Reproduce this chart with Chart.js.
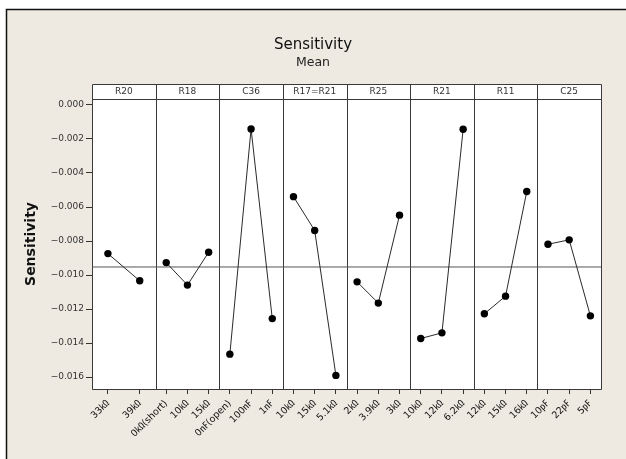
<!DOCTYPE html>
<html>
<head>
<meta charset="utf-8">
<script src="https://cdn.jsdelivr.net/npm/chart.js@4.4.1/dist/chart.umd.min.js"></script>
<style>
  html, body { margin: 0; padding: 0; background: #ffffff; }
  #wrap { width: 626px; height: 459px; position: relative; }
</style>
</head>
<body>
<div id="wrap"><canvas id="c" width="626" height="459"></canvas></div>
<script>
// Main effects of each factor on mean sensitivity
const factors = ['R20', 'R18', 'C36', 'R17=R21', 'R25', 'R21', 'R11', 'C25'];

const r20Levels    = ['33㏀', '39㏀'];
const r18Levels    = ['0㏀(short)', '10㏀', '15㏀'];
const c36Levels    = ['0㎋(open)', '100㎋', '1㎋'];
const r17r21Levels = ['10㏀', '15㏀', '5.1㏀'];
const r25Levels    = ['2㏀', '3.9㏀', '3㏀'];
const r21Levels    = ['10㏀', '12㏀', '6.2㏀'];
const r11Levels    = ['12㏀', '15㏀', '16㏀'];
const c25Levels    = ['10㎊', '22㎊', '5㎊'];

const r20Means    = [-0.00874, -0.01034];
const r18Means    = [-0.00927, -0.01059, -0.00866];
const c36Means    = [-0.01465, -0.00141, -0.01256];
const r17r21Means = [-0.00539, -0.00738, -0.01590];
const r25Means    = [-0.01040, -0.01165, -0.00648];
const r21Means    = [-0.01373, -0.01340, -0.00143];
const r11Means    = [-0.01228, -0.01124, -0.00509];
const c25Means    = [-0.00819, -0.00793, -0.01240];

const yTickValues = [0, -0.002, -0.004, -0.006, -0.008, -0.010, -0.012, -0.014, -0.016];

const levelSets = [r20Levels, r18Levels, c36Levels, r17r21Levels, r25Levels, r21Levels, r11Levels, c25Levels];
const meanSets  = [r20Means, r18Means, c36Means, r17r21Means, r25Means, r21Means, r11Means, c25Means];

// Each factor occupies one unit of the x scale; its levels sit at band centres.
const tickPositions = [];
const tickLabels = [];
const datasets = [];
meanSets.forEach((means, i) => {
  const n = means.length;
  const pts = means.map((v, j) => ({ x: i + (j + 0.5) / n, y: v }));
  pts.forEach((p, j) => { tickPositions.push(p.x); tickLabels.push(levelSets[i][j]); });
  datasets.push({
    label: factors[i],
    data: pts,
    showLine: true,
    borderColor: '#2a2a2a',
    borderWidth: 1,
    backgroundColor: '#000000',
    pointBackgroundColor: '#000000',
    pointBorderWidth: 0,
    pointRadius: 3.7,
    pointHoverRadius: 3.7,
    order: 1
  });
});

const factorMeans = meanSets.map(m => m.reduce((a, b) => a + b, 0) / m.length);
const grandMean = factorMeans.reduce((a, b) => a + b, 0) / factorMeans.length;
datasets.push({
  label: 'mean',
  data: [{ x: 0, y: grandMean }, { x: factors.length, y: grandMean }],
  showLine: true,
  borderColor: '#555555',
  borderWidth: 1,
  pointRadius: 0,
  order: 2
});

const fmt = v => {
  const s = Math.abs(v).toFixed(3);
  return (v < -1e-9 ? '\u2212' : '') + s;
};

const HEADER_H = 15;

const framePlugin = {
  id: 'frame',
  beforeDraw(chart) {
    const ctx = chart.ctx;
    const a = chart.chartArea;
    ctx.save();
    ctx.fillStyle = '#ffffff';
    ctx.fillRect(0, 0, chart.width, chart.height);
    // outer panel
    ctx.fillStyle = '#eeeae1';
    ctx.fillRect(6, 9, chart.width, chart.height);
    ctx.strokeStyle = '#111111';
    ctx.lineWidth = 1.5;
    ctx.beginPath();
    ctx.moveTo(6.5, chart.height + 2);
    ctx.lineTo(6.5, 9.5);
    ctx.lineTo(chart.width + 2, 9.5);
    ctx.stroke();
    // plot area and header strip
    ctx.fillStyle = '#ffffff';
    ctx.fillRect(a.left, a.top - HEADER_H, a.right - a.left, a.bottom - a.top + HEADER_H);
    // titles
    ctx.fillStyle = '#111111';
    ctx.textAlign = 'center';
    ctx.textBaseline = 'middle';
    ctx.font = '15px "DejaVu Sans"';
    ctx.fillText('Sensitivity', 313, 45);
    ctx.font = '12.5px "DejaVu Sans"';
    ctx.fillStyle = '#222222';
    ctx.fillText('Mean', 313, 63);
    // y axis title
    ctx.save();
    ctx.translate(31, (a.top + a.bottom) / 2);
    ctx.rotate(-Math.PI / 2);
    ctx.font = 'bold 14px "DejaVu Sans"';
    ctx.fillStyle = '#111111';
    ctx.fillText('Sensitivity', 0, 0);
    ctx.restore();
    ctx.restore();
  },
  beforeDatasetsDraw(chart) {
    const ctx = chart.ctx;
    const a = chart.chartArea;
    const xs = chart.scales.x;
    ctx.save();
    ctx.strokeStyle = '#3a3a3a';
    ctx.lineWidth = 1;
    // header strip
    ctx.beginPath();
    ctx.rect(Math.round(a.left) + 0.5, Math.round(a.top - HEADER_H) + 0.5,
             Math.round(a.right - a.left), Math.round(a.bottom - a.top + HEADER_H));
    ctx.moveTo(a.left, Math.round(a.top) + 0.5);
    ctx.lineTo(a.right, Math.round(a.top) + 0.5);
    for (let i = 1; i < factors.length; i++) {
      const x = Math.round(xs.getPixelForValue(i)) + 0.5;
      ctx.moveTo(x, a.top - HEADER_H);
      ctx.lineTo(x, a.bottom);
    }
    ctx.stroke();
    ctx.fillStyle = '#333333';
    ctx.font = '9px "DejaVu Sans"';
    ctx.textAlign = 'center';
    ctx.textBaseline = 'middle';
    factors.forEach((f, i) => {
      const cx = xs.getPixelForValue(i + 0.5);
      ctx.fillText(f, cx, a.top - HEADER_H / 2 + 0.5);
    });
    ctx.restore();
  }
};

new Chart(document.getElementById('c'), {
  type: 'scatter',
  data: { datasets },
  options: {
    responsive: false,
    animation: false,
    events: [],
    layout: { padding: { left: 0, right: 25, top: 99, bottom: 0 } },
    plugins: { legend: { display: false }, tooltip: { enabled: false }, title: { display: false } },
    scales: {
      x: {
        type: 'linear',
        min: 0,
        max: factors.length,
        border: { display: false },
        grid: { drawOnChartArea: false, drawTicks: true, tickLength: 5, color: '#333333' },
        ticks: {
          autoSkip: false,
          minRotation: 45,
          maxRotation: 45,
          padding: 4,
          color: '#111111',
          font: { family: '"DejaVu Sans", "Noto Sans CJK KR"', size: 9.5 },
          callback: (v, i) => tickLabels[i]
        },
        afterBuildTicks: s => { s.ticks = tickPositions.map(v => ({ value: v })); },
        afterFit: s => { s.height = 70; }
      },
      y: {
        type: 'linear',
        min: -0.0167,
        max: 0.00035,
        border: { display: false },
        grid: { drawOnChartArea: false, drawTicks: true, tickLength: 6, color: '#333333' },
        ticks: {
          padding: 2,
          color: '#333333',
          font: { family: '"DejaVu Sans"', size: 9 },
          callback: v => fmt(v)
        },
        afterBuildTicks: s => { s.ticks = yTickValues.map(v => ({ value: v })); },
        afterFit: s => { s.width = 92; }
      }
    }
  },
  plugins: [framePlugin]
});
</script>
</body>
</html>
